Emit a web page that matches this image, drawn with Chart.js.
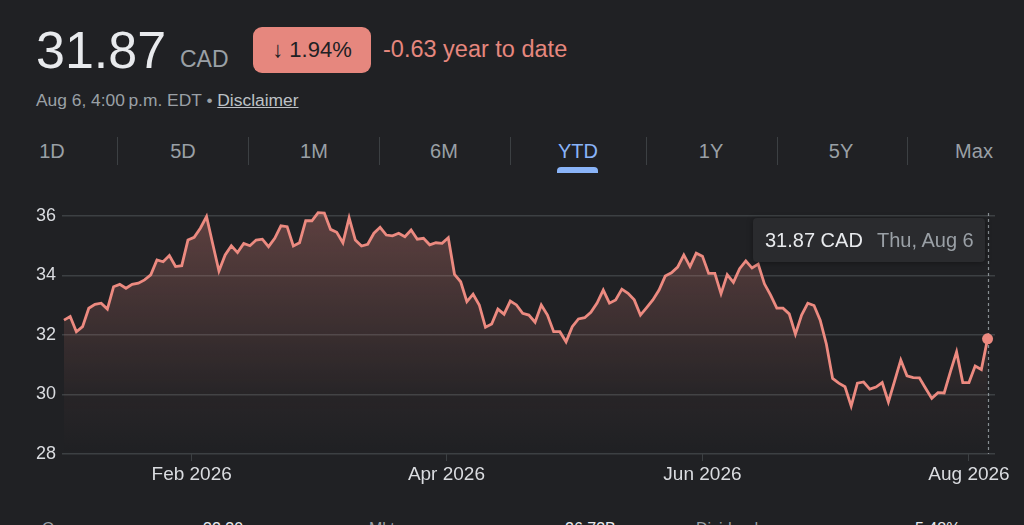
<!DOCTYPE html>
<html>
<head>
<meta charset="utf-8">
<script src="https://cdn.jsdelivr.net/npm/chart.js@4.4.1/dist/chart.umd.min.js"></script>
<style>
  html, body { margin: 0; padding: 0; background: #202124; }
  body { width: 1024px; height: 525px; overflow: hidden; position: relative;
         font-family: "Liberation Sans", Arial, Helvetica, sans-serif; }
  .abs { position: absolute; white-space: nowrap; }
  #price { left: 36px; top: 24px; font-size: 52px; line-height: 52px; color: #e8eaed; }
  #cur { left: 180px; top: 48px; font-size: 23px; line-height: 23px; color: #9aa0a6; }
  #badge { left: 253px; top: 27px; width: 118px; height: 46px; border-radius: 9px;
           background: #e6877e; color: #202124; font-size: 22px; line-height: 46px; text-align: center; }
  #ytd { left: 383px; top: 38px; font-size: 23.5px; line-height: 23px; color: #e6877e; }
  #sub { left: 36px; top: 92px; font-size: 17.4px; line-height: 17px; color: #9aa0a6; }
  #sub u { color: #bdc1c6; }
  .tab { top: 141px; width: 120px; margin-left: -60px; text-align: center;
         font-size: 20px; line-height: 20px; color: #9aa0a6; }
  .tab.on { color: #8ab4f8; }
  .sep { top: 137px; width: 1px; height: 28px; background: #3c4043; }
  #bar { left: 557px; top: 167px; width: 41px; height: 6px; border-radius: 4px 4px 0 0; background: #8ab4f8; }
  #wrap { position: absolute; left: 0; top: 195px; width: 1024px; height: 299px; }
  #tip { left: 753px; top: 218px; width: 232px; height: 44px; background: #2a2b2e;
         border-radius: 4px; box-shadow: 0 1px 6px rgba(0,0,0,0.35); font-size: 20px; line-height: 44px; }
  #tip .v { position: absolute; left: 12px; color: #e8eaed; }
  #tip .d { position: absolute; left: 124px; color: #9aa0a6; }
  .stat { top: 521px; font-size: 16px; line-height: 16px; }
</style>
</head>
<body>
<div class="abs" id="price">31.87</div>
<div class="abs" id="cur">CAD</div>
<div class="abs" id="badge">↓ 1.94%</div>
<div class="abs" id="ytd">-0.63 year to date</div>
<div class="abs" id="sub">Aug 6, 4:00&#8201;p.m. EDT • <u>Disclaimer</u></div>

<div class="abs tab" style="left:52px">1D</div>
<div class="abs sep" style="left:117px"></div>
<div class="abs tab" style="left:183px">5D</div>
<div class="abs sep" style="left:248px"></div>
<div class="abs tab" style="left:314px">1M</div>
<div class="abs sep" style="left:379px"></div>
<div class="abs tab" style="left:444px">6M</div>
<div class="abs sep" style="left:510px"></div>
<div class="abs tab on" style="left:578px">YTD</div>
<div class="abs sep" style="left:646px"></div>
<div class="abs tab" style="left:711px">1Y</div>
<div class="abs sep" style="left:777px"></div>
<div class="abs tab" style="left:841px">5Y</div>
<div class="abs sep" style="left:907px"></div>
<div class="abs tab" style="left:974px">Max</div>
<div class="abs" id="bar"></div>

<div id="wrap"><canvas id="chart"></canvas></div>

<div class="abs" id="tip"><span class="v">31.87 CAD</span><span class="d">Thu, Aug 6</span></div>

<div class="abs stat" style="left:42px;color:#9aa0a6">Open</div>
<div class="abs stat" style="left:203px;color:#e8eaed">32.30</div>
<div class="abs stat" style="left:369px;color:#9aa0a6">Mkt cap</div>
<div class="abs stat" style="left:565px;color:#e8eaed">26.73B</div>
<div class="abs stat" style="left:696px;color:#9aa0a6">Dividend</div>
<div class="abs stat" style="left:915px;color:#e8eaed">5.48%</div>

<script>
// daily closes, Jan 2 to Aug 6 2026 (trading sessions)
const closes = [
    32.50, 32.62, 32.11, 32.28, 32.90, 33.03, 33.07, 32.87, 33.62, 33.70,
    33.57, 33.70, 33.74, 33.85, 34.02, 34.52, 34.46, 34.67, 34.30, 34.33,
    35.19, 35.28, 35.59, 35.98, 35.06, 34.15, 34.69, 35.00, 34.77, 35.08,
    35.00, 35.19, 35.22, 34.97, 35.25, 35.67, 35.64, 34.99, 35.10, 35.84,
    35.84, 36.11, 36.10, 35.55, 35.45, 35.10, 35.94, 35.19, 34.99, 35.05,
    35.42, 35.62, 35.36, 35.33, 35.42, 35.30, 35.53, 35.22, 35.25, 35.03,
    35.10, 35.08, 35.27, 34.04, 33.79, 33.12, 33.37, 33.01, 32.26, 32.37,
    32.87, 32.70, 33.14, 33.01, 32.73, 32.67, 32.43, 33.01, 32.67, 32.11,
    32.11, 31.77, 32.28, 32.54, 32.58, 32.76, 33.07, 33.51, 33.07, 33.18,
    33.54, 33.40, 33.18, 32.67, 32.92, 33.18, 33.51, 33.98, 34.09, 34.28,
    34.69, 34.30, 34.75, 34.65, 34.07, 34.07, 33.39, 34.03, 33.77, 34.23,
    34.49, 34.25, 34.38, 33.72, 33.34, 32.90, 32.90, 32.71, 32.03, 32.67,
    33.07, 32.99, 32.50, 31.69, 30.54, 30.38, 30.26, 29.61, 30.38, 30.42,
    30.18, 30.25, 30.40, 29.75, 30.45, 31.16, 30.63, 30.57, 30.56, 30.21,
    29.87, 30.06, 30.05, 30.76, 31.43, 30.40, 30.40, 30.96, 30.84, 31.87
];
// month starts, as positions on the session axis
const monthTicks = [20.6, 61.7, 103, 146];
const monthLabels = ['Feb 2026', 'Apr 2026', 'Jun 2026', 'Aug 2026'];
const priceTicks = [28, 30, 32, 34, 36];

const lineColor = '#ec8a80';
const gridColor = '#3c4043';
const last = closes.length - 1;

// dotted marker line at the last session
const markerLine = {
    id: 'markerLine',
    beforeDatasetsDraw(chart) {
        const { ctx, chartArea, scales } = chart;
        const x = Math.round(scales.x.getPixelForValue(last)) + 0.5;
        ctx.save();
        ctx.strokeStyle = 'rgba(154,160,166,0.85)';
        ctx.lineWidth = 1.2;
        ctx.setLineDash([3, 3]);
        ctx.beginPath();
        ctx.moveTo(x, chartArea.top);
        ctx.lineTo(x, chartArea.bottom);
        ctx.stroke();
        ctx.restore();
    }
};

const ctx = document.getElementById('chart').getContext('2d');
new Chart(ctx, {
    type: 'line',
    data: {
        datasets: [{
            data: closes.map((v, i) => ({ x: i, y: v })),
            borderColor: lineColor,
            borderWidth: 2.8,
            tension: 0,
            clip: 4,
            fill: 'start',
            backgroundColor: (c) => {
                const area = c.chart.chartArea;
                if (!area) return 'rgba(236,138,128,0.2)';
                const g = c.chart.ctx.createLinearGradient(0, area.top, 0, area.bottom);
                g.addColorStop(0, 'rgba(236,138,128,0.30)');
                g.addColorStop(0.75, 'rgba(236,138,128,0.04)');
                g.addColorStop(1, 'rgba(236,138,128,0)');
                return g;
            },
            pointRadius: (c) => c.dataIndex === last ? 5.5 : 0,
            pointHoverRadius: 0,
            pointBackgroundColor: lineColor,
            pointBorderWidth: 0
        }]
    },
    options: {
        responsive: true,
        maintainAspectRatio: false,
        animation: false,
        layout: { padding: { top: 18, right: 29, left: 0, bottom: 0 } },
        plugins: {
            legend: { display: false },
            tooltip: { enabled: false }
        },
        scales: {
            x: {
                type: 'linear',
                min: -0.32,
                max: 150.2,
                afterBuildTicks: (s) => { s.ticks = monthTicks.map(v => ({ value: v })); },
                afterFit: (s) => { s.height = 40; },
                border: { display: false },
                grid: { drawOnChartArea: false, drawTicks: true, tickLength: 7, color: gridColor },
                ticks: {
                    autoSkip: false,
                    maxRotation: 0,
                    padding: 2,
                    color: '#dadce0',
                    font: { family: '"Liberation Sans", Arial, sans-serif', size: 19 },
                    callback: (v, i) => monthLabels[i]
                }
            },
            y: {
                min: 28,
                max: 36.1,
                afterBuildTicks: (s) => { s.ticks = priceTicks.map(v => ({ value: v })); },
                afterFit: (s) => { s.width = 62; },
                border: { display: false },
                grid: { color: gridColor, drawTicks: false, lineWidth: 1.5 },
                ticks: {
                    padding: 6,
                    color: '#dadce0',
                    font: { family: '"Liberation Sans", Arial, sans-serif', size: 18 }
                }
            }
        }
    },
    plugins: [markerLine]
});
</script>
</body>
</html>
